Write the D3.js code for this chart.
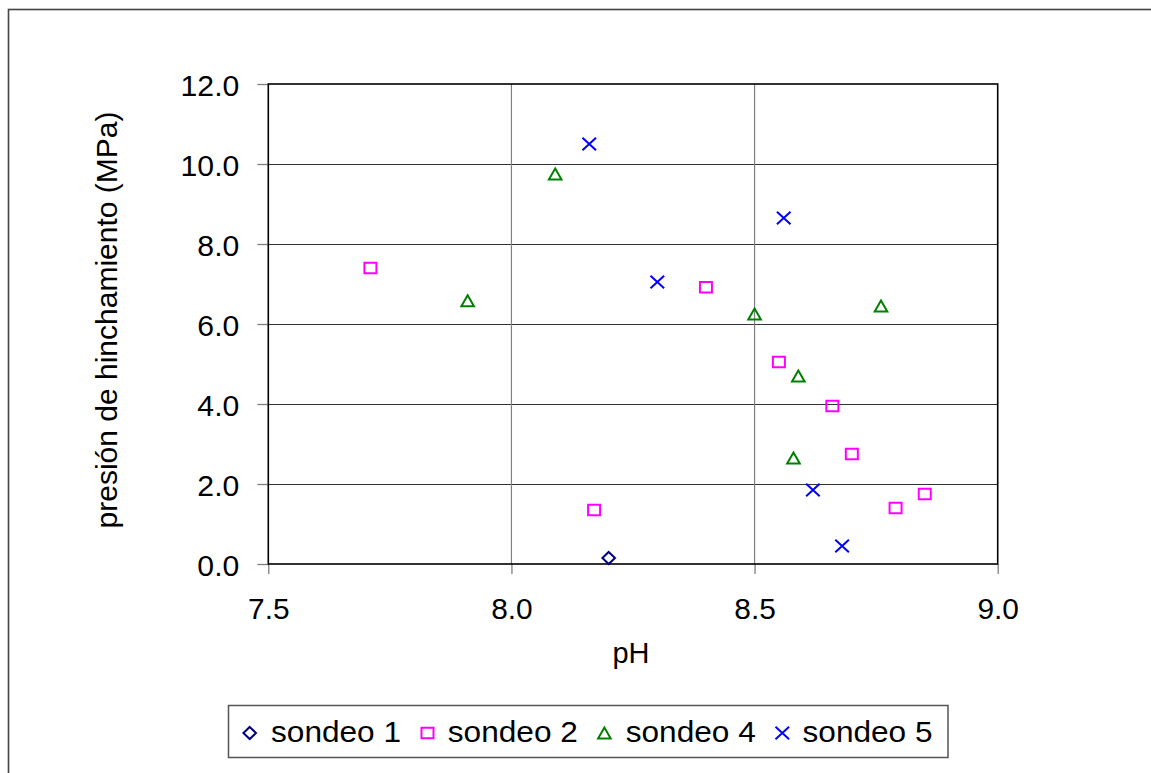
<!DOCTYPE html>
<html>
<head>
<meta charset="utf-8">
<script src="https://cdn.jsdelivr.net/npm/d3@7"></script>
<style>
  html, body { margin: 0; padding: 0; background: #fff; }
  svg { display: block; }
  text { font-family: "Liberation Sans", Arial, sans-serif; fill: #000; }
</style>
</head>
<body>
<svg id="chart" width="1151" height="773"></svg>
<script>
// ---- data ----
const seriesNames = ["sondeo 1", "sondeo 2", "sondeo 4", "sondeo 5"];
const sondeo1_pH = [8.20];
const sondeo1_P  = [0.15];
const sondeo2_pH = [7.71, 8.40, 8.55, 8.66, 8.70, 8.17, 8.79, 8.85];
const sondeo2_P  = [7.40, 6.92, 5.05, 3.95, 2.75, 1.35, 1.40, 1.75];
const sondeo4_pH = [7.91, 8.09, 8.50, 8.76, 8.59, 8.58];
const sondeo4_P  = [6.58, 9.75, 6.25, 6.45, 4.70, 2.65];
const sondeo5_pH = [8.16, 8.30, 8.56, 8.62, 8.68];
const sondeo5_P  = [10.50, 7.05, 8.65, 1.85, 0.45];
const xTicks = [7.5, 8.0, 8.5, 9.0];
const yTicks = [0, 2, 4, 6, 8, 10, 12];
const xTitle = "pH";
const yTitle = "presión de hinchamiento (MPa)";

const series = [
  {name: seriesNames[0], xs: sondeo1_pH, ys: sondeo1_P, shape: "diamond",  color: "#000080"},
  {name: seriesNames[1], xs: sondeo2_pH, ys: sondeo2_P, shape: "square",   color: "#FF00FF"},
  {name: seriesNames[2], xs: sondeo4_pH, ys: sondeo4_P, shape: "triangle", color: "#008000"},
  {name: seriesNames[3], xs: sondeo5_pH, ys: sondeo5_P, shape: "cross",    color: "#0000FF"}
];

const svg = d3.select("#chart");
const L = 268.3, R = 997.7, T = 84, B = 564;
const x = d3.scaleLinear().domain([7.5, 9.0]).range([L, R]);
const y = d3.scaleLinear().domain([0, 12]).range([B, T]);

// outer frame
svg.append("rect").attr("x", 8.5).attr("y", 9.5).attr("width", 1160).attr("height", 800)
  .attr("fill", "#fff").attr("stroke", "#444").attr("stroke-width", 1.6);

// gridlines
svg.append("g").selectAll("line").data(yTicks.filter(d => d > 0 && d < 12)).join("line")
  .attr("x1", L).attr("x2", R).attr("y1", d => Math.round(y(d)) + 0.5).attr("y2", d => Math.round(y(d)) + 0.5)
  .attr("stroke", "#333").attr("stroke-width", 1.2);
svg.append("g").selectAll("line").data(xTicks.filter(d => d > 7.5 && d < 9.0)).join("line")
  .attr("x1", d => x(d)).attr("x2", d => x(d)).attr("y1", T).attr("y2", B)
  .attr("stroke", "#808080").attr("stroke-width", 1.2);

// axes
const yAxis = d3.axisLeft(y).tickValues(yTicks).tickFormat(d3.format(".1f")).tickSize(11).tickPadding(18);
const gy = svg.append("g").attr("transform", `translate(${L},0)`).call(yAxis);
gy.select(".domain").remove();
gy.selectAll(".tick line").attr("stroke", "#808080").attr("stroke-width", 1.3);
gy.selectAll(".tick text").attr("font-size", 29).attr("dy", "0.39em")
  .attr("font-family", "Liberation Sans, Arial, sans-serif");

const xAxis = d3.axisBottom(x).tickValues(xTicks).tickFormat(d3.format(".1f")).tickSize(10).tickPadding(24);
const gx = svg.append("g").attr("transform", `translate(0,${B})`).call(xAxis);
gx.select(".domain").remove();
gx.selectAll(".tick line").attr("stroke", "#808080").attr("stroke-width", 1.3);
gx.selectAll(".tick text").attr("font-size", 29)
  .attr("font-family", "Liberation Sans, Arial, sans-serif");

// plot border
svg.append("rect").attr("x", L).attr("y", T).attr("width", R - L).attr("height", B - T)
  .attr("fill", "none").attr("stroke", "#000").attr("stroke-width", 1.6);

// titles
svg.append("text").attr("x", 631).attr("y", 663).attr("text-anchor", "middle")
  .attr("font-size", 29).text(xTitle);
svg.append("text").attr("transform", "translate(116.5,320) rotate(-90)").attr("text-anchor", "middle")
  .attr("font-size", 30).text(yTitle);

// markers
function markerPath(shape) {
  switch (shape) {
    case "square":   return "M-6,-5.3 L6,-5.3 L6,5.3 L-6,5.3 Z";
    case "diamond":  return "M0,-6 L6.3,0 L0,6 L-6.3,0 Z";
    case "triangle": return "M0,-5.5 L6.3,5.5 L-6.3,5.5 Z";
    case "cross":    return "M-6.8,-6.2 L6.8,6.2 M-6.8,6.2 L6.8,-6.2";
  }
}
series.forEach(s => {
  const pts = s.xs.map((v, i) => [v, s.ys[i]]);
  svg.append("g").selectAll("path").data(pts).join("path")
    .attr("transform", d => `translate(${x(d[0])},${y(d[1])})`)
    .attr("d", markerPath(s.shape))
    .attr("fill", "none").attr("stroke", s.color).attr("stroke-width", 2);
});

// legend
const leg = svg.append("g");
leg.append("rect").attr("x", 228.5).attr("y", 705.5).attr("width", 719.5).attr("height", 52)
  .attr("fill", "#fff").attr("stroke", "#555").attr("stroke-width", 1.5);
const legX = [249.7, 427.5, 604.4, 782.3];
const legTX = [271, 447.8, 625.7, 802.5];
series.forEach((s, i) => {
  leg.append("path").attr("transform", `translate(${legX[i]},733)`).attr("d", markerPath(s.shape))
    .attr("fill", "none").attr("stroke", s.color).attr("stroke-width", 2);
  leg.append("text").attr("x", legTX[i]).attr("y", 742).attr("font-size", 29).text(s.name);
});

// slight horizontal stretch of the text to match the reference rendering
function stretch(sel, f) {
  sel.each(function() {
    const w = this.getComputedTextLength();
    d3.select(this).attr("textLength", w * f).attr("lengthAdjust", "spacingAndGlyphs");
  });
}
stretch(gy.selectAll(".tick text"), 1.04);
stretch(gx.selectAll(".tick text"), 1.03);
stretch(leg.selectAll("text"), 1.09);
</script>
</body>
</html>
